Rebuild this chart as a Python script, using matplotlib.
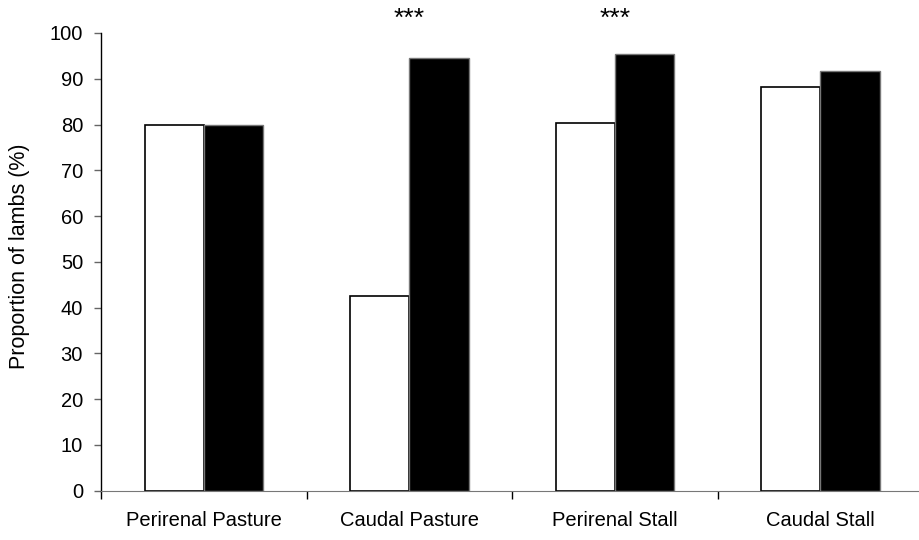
import matplotlib.pyplot as plt
import numpy as np

plt.rcParams['font.family'] = ['Liberation Sans', 'DejaVu Sans']

categories = ["Perirenal Pasture", "Caudal Pasture", "Perirenal Stall", "Caudal Stall"]
white_vals = [80.0, 42.5, 80.4, 88.2]
black_vals = [80.0, 94.5, 95.4, 91.8]
stars = ["", "***", "***", ""]

x = np.arange(len(categories))
w = 0.288

fig = plt.figure(figsize=(9.19, 5.4), dpi=100)
ax = fig.add_axes([0.110, 0.0915, 0.890, 0.8474])

ax.bar(x - w / 2, white_vals, w, color="white", edgecolor="black", linewidth=1.2)
ax.bar(x + w / 2, black_vals, w, color="black", edgecolor="#777777", linewidth=1)

for xi, s in zip(x, stars):
    if s:
        ax.text(xi, 100.5, s, ha="center", va="bottom", fontsize=19, clip_on=False)

ax.set_xlim(-0.5, 3.48)
ax.set_ylim(0, 100)
ax.set_yticks(np.arange(0, 101, 10))
ax.set_xticks(x)
ax.set_xticklabels(categories, fontsize=14.5)
ax.tick_params(axis="x", length=0, pad=15)
ax.set_xticks([-0.5, 0.5, 1.5, 2.5], minor=True)
ax.tick_params(axis="x", which="minor", length=6, direction="out", width=1)
ax.tick_params(axis="y", length=5, direction="out", labelsize=14.5, width=1,
               color="#666666", pad=8)
ax.set_ylabel("Proportion of lambs (%)", fontsize=15.5)
ax.yaxis.set_label_coords(-0.0875, 0.512)

for s in ["top", "right"]:
    ax.spines[s].set_visible(False)
ax.spines["left"].set_linewidth(1)
ax.spines["bottom"].set_color("#777777")

fig.savefig("out.png", dpi=100)
